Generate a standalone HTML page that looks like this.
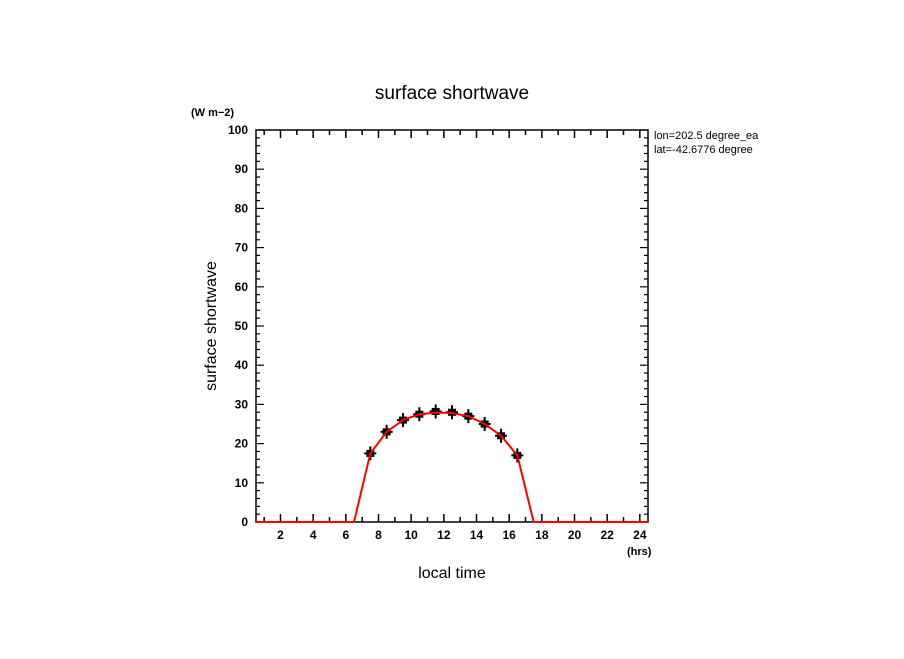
<!DOCTYPE html>
<html><head><meta charset="utf-8"><style>
body{margin:0;background:#fff;width:904px;height:654px;overflow:hidden}
text{font-family:"Liberation Sans",sans-serif}
</style></head><body>
<svg id="chart" width="904" height="654" xmlns="http://www.w3.org/2000/svg">
<text x="452" y="99" font-size="19" text-anchor="middle">surface shortwave</text>
<text x="191" y="116" font-size="11" font-weight="bold">(W m−2)</text>
<text x="627" y="555" font-size="11" font-weight="bold">(hrs)</text>
<text x="452" y="578" font-size="16" text-anchor="middle">local time</text>
<text transform="translate(216,326) rotate(-90)" font-size="16" text-anchor="middle">surface shortwave</text>
<text x="654" y="139" font-size="11">lon=202.5 degree_ea</text>
<text x="654" y="153" font-size="11">lat=-42.6776 degree</text>
<rect x="256" y="130" width="392" height="392" fill="none" stroke="#000" stroke-width="1.5"/>
<g id="axes"></g>
<g id="marks"></g>
</svg>
<script>
const pointHours=[7.5,8.5,9.5,10.5,11.5,12.5,13.5,14.5,15.5,16.5];
const pointValues=[17.5,23,26,27.5,28.2,28,27,25,22,17];
const lineHours=[0.5,1.5,2.5,3.5,4.5,5.5,6.5,7.5,8.5,9.5,10.5,11.5,12.5,13.5,14.5,15.5,16.5,17.5,18.5,19.5,20.5,21.5,22.5,23.5,24.5];
const lineValues=[0,0,0,0,0,0,0,17.5,23,26,27.5,27.9,27.8,27,25,22,17,0,0,0,0,0,0,0,0];
const xTickLabels=[2,4,6,8,10,12,14,16,18,20,22,24];
const yTickLabels=[0,10,20,30,40,50,60,70,80,90,100];
const NS="http://www.w3.org/2000/svg";
const X=h=>256+(h-0.5)*392/24;
const Y=v=>522-v*3.92;
function mk(t,a,p){const e=document.createElementNS(NS,t);for(const k in a)e.setAttribute(k,a[k]);p.appendChild(e);return e;}
const ax=document.getElementById('axes'),mg=document.getElementById('marks');
for(let h=1;h<=24;h++){
  const x=X(h);
  const t1=mk('line',{x1:x,x2:x,y1:522,y2:h%2?517:514,stroke:'#000','stroke-width':1.5},ax);
  
  
  const t2=mk('line',{x1:x,x2:x,y1:130,y2:h%2?135:138,stroke:'#000','stroke-width':1.5},ax);
  
  
}
xTickLabels.forEach(h=>{
  const t=mk('text',{x:X(h),y:539,'font-size':12,'font-weight':'bold','text-anchor':'middle'},ax);
  t.textContent=h;
  
  
});
for(let v=0;v<=100;v+=2){
  const y=Y(v),len=v%10?4:8;
  const a=mk('line',{x1:256,x2:256+len,y1:y,y2:y,stroke:'#000','stroke-width':1.2},ax);
  
  
  const b=mk('line',{x1:648,x2:648-len,y1:y,y2:y,stroke:'#000','stroke-width':1.2},ax);
  
  
}
yTickLabels.forEach(v=>{
  const t=mk('text',{x:248,y:Y(v)+4,'font-size':12,'font-weight':'bold','text-anchor':'end'},ax);
  t.textContent=v;
  
  
});
pointHours.forEach((h,i)=>{
  const x=X(h),y=Y(pointValues[i]);
  const g=mk('g',{},mg);
  
  
  mk('rect',{x:x-4,y:y-3.5,width:8,height:7,fill:'#000'},g);
  mk('line',{x1:x,x2:x,y1:y-7,y2:y+7,stroke:'#000','stroke-width':2},g);
  mk('line',{x1:x-6,x2:x+6,y1:y,y2:y,stroke:'#000','stroke-width':2},g);
});
const pl=mk('polyline',{points:lineHours.map((h,i)=>X(h)+','+Y(lineValues[i])).join(' '),fill:'none',stroke:'#f00','stroke-width':2},mg);


</script>
</body></html>
